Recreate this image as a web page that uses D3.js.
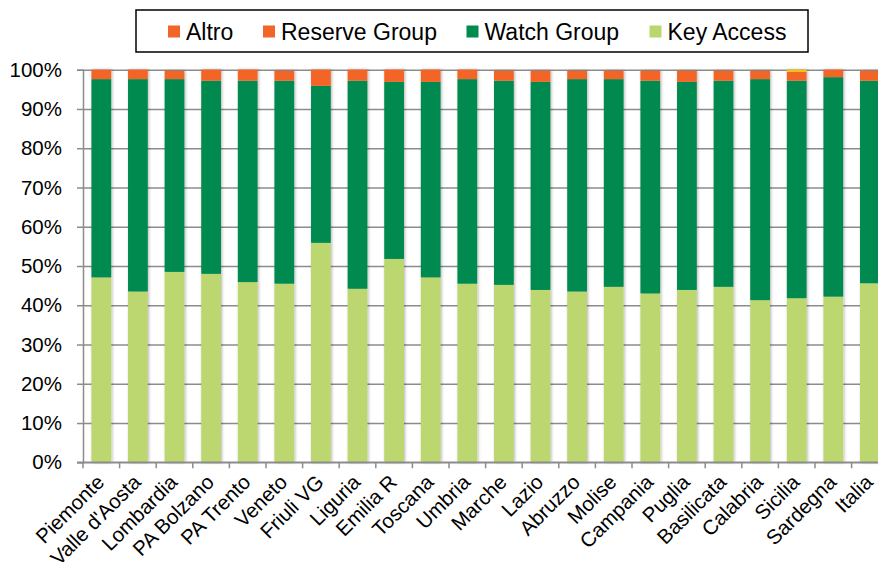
<!DOCTYPE html>
<html>
<head>
<meta charset="utf-8">
<script src="https://cdn.jsdelivr.net/npm/d3@7"></script>
<style>
  body { margin: 0; background: #fff; }
  svg { display: block; font-family: "Liberation Sans", Arial, sans-serif; }
</style>
</head>
<body>
<div id="chart"></div>
<script>
const regions = ['Piemonte', "Valle d'Aosta", 'Lombardia', 'PA Bolzano', 'PA Trento', 'Veneto',
  'Friuli VG', 'Liguria', 'Emilia R', 'Toscana', 'Umbria', 'Marche', 'Lazio', 'Abruzzo',
  'Molise', 'Campania', 'Puglia', 'Basilicata', 'Calabria', 'Sicilia', 'Sardegna', 'Italia'];

// percentages per group
const keyAccess = [47.1, 43.5, 48.5, 48.0, 45.9, 45.5, 55.9, 44.2, 51.8, 47.1, 45.5,
  45.2, 43.9, 43.5, 44.7, 43.0, 43.9, 44.7, 41.3, 41.8, 42.2, 45.6];
const watchGroup = [50.5, 54.1, 49.1, 49.2, 51.3, 51.7, 40.0, 53.0, 45.1, 49.8, 52.1,
  52.0, 53.0, 54.1, 52.9, 54.2, 53.0, 52.5, 56.3, 55.4, 55.9, 51.6];
const reserveGroup = [2.4, 2.4, 2.1, 2.8, 2.8, 2.5, 4.1, 2.8, 3.1, 3.1, 2.4,
  2.5, 2.8, 2.1, 2.1, 2.5, 2.8, 2.5, 2.1, 2.3, 1.9, 2.5];
const altro = [0, 0, 0, 0, 0, 0, 0, 0, 0, 0, 0,
  0, 0, 0, 0, 0, 0, 0, 0, 0, 0, 0];
const nonClass = [0, 0, 0, 0, 0, 0, 0, 0, 0, 0, 0,
  0, 0, 0, 0, 0, 0, 0, 0, 0.5, 0, 0];

const seriesKeys = ['Key Access', 'Watch Group', 'Reserve Group', 'Altro', 'nd'];
const seriesColors = ['#bcd66f', '#008a4f', '#f26528', '#f26528', '#f7c400'];
const legendKeys = ['Altro', 'Reserve Group', 'Watch Group', 'Key Access'];
const yTicks = [0, 10, 20, 30, 40, 50, 60, 70, 80, 90, 100];

const rows = regions.map((r, i) => ({
  region: r,
  'Key Access': keyAccess[i],
  'Watch Group': watchGroup[i],
  'Reserve Group': reserveGroup[i],
  'Altro': altro[i],
  'nd': nonClass[i],
}));

const width = 878;
const height = 574;
const margin = { top: 69.7, left: 83, bottom: 462.3 };
const step = 36.6;

const svg = d3.select('#chart').append('svg')
  .attr('width', width)
  .attr('height', height);

const defs = svg.append('defs');
const shadow = defs.append('filter').attr('id', 'shadow')
  .attr('x', '-30%').attr('y', '-5%').attr('width', '160%').attr('height', '110%');
shadow.append('feDropShadow')
  .attr('dx', 1).attr('dy', 0).attr('stdDeviation', 1.6)
  .attr('flood-color', '#000').attr('flood-opacity', 0.3);

const x = d3.scaleBand()
  .domain(regions)
  .range([margin.left, margin.left + step * regions.length])
  .paddingInner(0.46)
  .paddingOuter(0.23);

const y = d3.scaleLinear().domain([0, 100]).range([margin.bottom, margin.top]);

// gridlines
const grid = svg.append('g')
  .attr('transform', `translate(${margin.left},0)`)
  .call(d3.axisLeft(y).tickValues(yTicks).tickFormat('').tickSize(-(width - margin.left + 20)));
grid.select('.domain').remove();
grid.selectAll('line').attr('stroke', '#8c8c8c').attr('stroke-width', 1.5);

// bars
const stack = d3.stack().keys(seriesKeys);
const layers = stack(rows);

svg.append('g').attr('filter', 'url(#shadow)')
  .selectAll('g')
  .data(layers)
  .join('g')
  .attr('fill', (d, i) => seriesColors[i])
  .selectAll('rect')
  .data((d) => d.filter((p) => p[1] - p[0] > 0))
  .join('rect')
  .attr('x', (d) => x(d.data.region))
  .attr('width', x.bandwidth())
  .attr('y', (d) => y(d[1]))
  .attr('height', (d) => y(d[0]) - y(d[1]));

// y axis
const yAxis = svg.append('g')
  .attr('transform', `translate(${margin.left},0)`)
  .call(d3.axisLeft(y).tickValues(yTicks).tickFormat((d) => d + '%').tickSize(6).tickPadding(15));
yAxis.select('.domain').attr('stroke', '#8c8c8c').attr('stroke-width', 1.5);
yAxis.selectAll('line').attr('stroke', '#8c8c8c').attr('stroke-width', 1.5);
yAxis.selectAll('text').attr('font-size', 20.5).attr('fill', '#000')
  .attr('font-family', '"Liberation Sans", Arial, sans-serif');

// x axis: ticks at category boundaries
const boundaries = d3.range(regions.length + 1).map((i) => margin.left + i * step);
svg.append('line')
  .attr('x1', margin.left - 6).attr('x2', width)
  .attr('y1', margin.bottom).attr('y2', margin.bottom)
  .attr('stroke', '#8c8c8c').attr('stroke-width', 1.5);
svg.append('g').selectAll('line')
  .data(boundaries)
  .join('line')
  .attr('x1', (d) => d).attr('x2', (d) => d)
  .attr('y1', margin.bottom).attr('y2', margin.bottom + 6)
  .attr('stroke', '#8c8c8c').attr('stroke-width', 1.5);

svg.append('g').selectAll('text')
  .data(regions)
  .join('text')
  .attr('transform', (d) => `translate(${x(d) + x.bandwidth() / 2 - 6},${margin.bottom + 11}) rotate(-45)`)
  .attr('text-anchor', 'end')
  .attr('dy', '0.7em')
  .attr('font-size', 20.5)
  .attr('fill', '#000')
  .text((d) => d);

// legend
const legend = svg.append('g');
legend.append('rect')
  .attr('x', 136).attr('y', 10).attr('width', 672).attr('height', 42)
  .attr('fill', '#fff').attr('stroke', '#000').attr('stroke-width', 1.5);
const legendX = [168, 263, 466.5, 649.5];
legendKeys.forEach((k, i) => {
  const g = legend.append('g').attr('transform', `translate(${legendX[i]},31.5)`);
  g.append('rect').attr('x', 0).attr('y', -6).attr('width', 12).attr('height', 12)
    .attr('fill', seriesColors[seriesKeys.indexOf(k)]);
  g.append('text').attr('x', 18).attr('y', 0).attr('dy', '0.35em')
    .attr('font-size', 23).attr('fill', '#000').text(k);
});
</script>
</body>
</html>
